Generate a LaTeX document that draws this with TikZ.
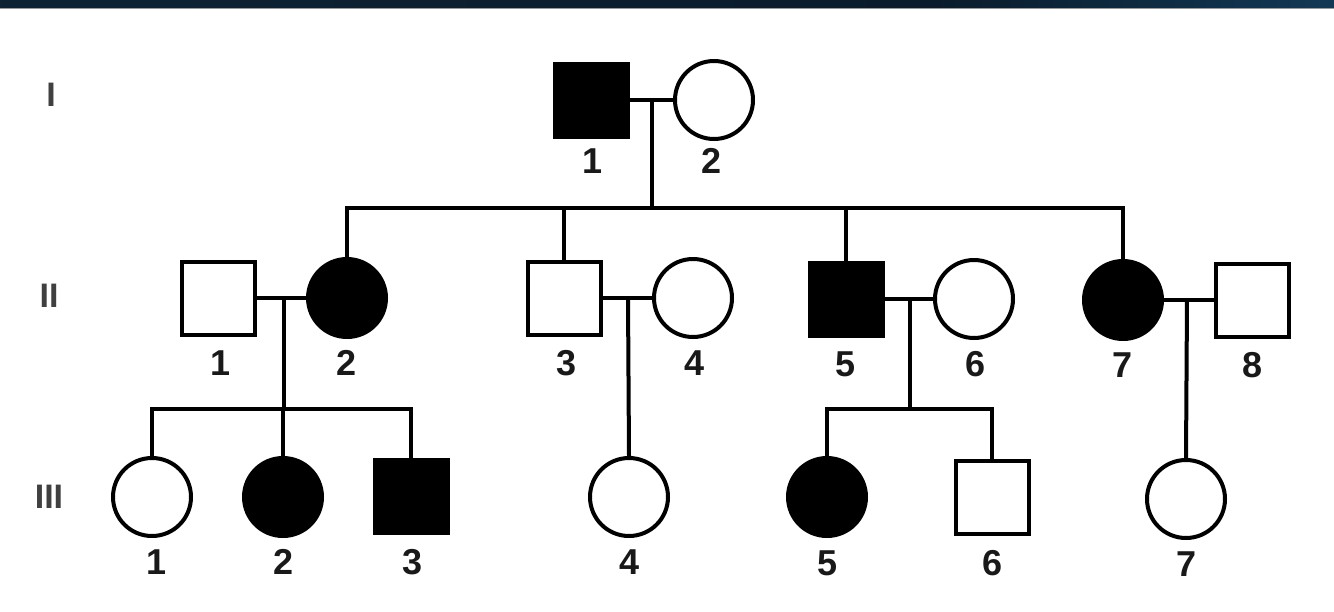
\documentclass[tikz,border=0pt]{standalone}
\usepackage{fontspec}
\setmainfont{Liberation Sans}
\usetikzlibrary{calc}
\definecolor{barA}{HTML}{10283A}
\definecolor{barB}{HTML}{0A1C2B}
\definecolor{barC}{HTML}{154669}
\definecolor{barD}{HTML}{0E3250}
\pgfdeclarehorizontalshading{topbar}{100bp}{color(0bp)=(barA); color(60bp)=(barB); color(82bp)=(barC); color(100bp)=(barD)}
\tikzset{
  male/.style={draw=black, line width=4pt, rectangle, minimum size=73pt, inner sep=0pt, fill=white},
  female/.style={draw=black, line width=4pt, circle, minimum size=78pt, inner sep=0pt, fill=white},
  aff/.style={fill=black},
  link/.style={draw=black, line width=4pt},
  num/.style={font=\fontsize{36}{36}\selectfont\bfseries, inner sep=0pt, text=black!90},
  gen/.style={font=\fontsize{34}{34}\selectfont\bfseries, inner sep=0pt, text=black!75}
}
\begin{document}
\begin{tikzpicture}[x=1pt,y=-1pt]
\useasboundingbox (0,0) rectangle (1334,611);
\fill[white] (0,0) rectangle (1334,611);
\shade[shading=topbar] (0,0) rectangle (1334,7.5);
\fill[black!40] (0,7.5) rectangle (1334,8.3);

% generation labels
\node[gen] (gI) at (51,95) {I};
\node[gen] (gII) at (49,296) {II};
\node[gen] (gIII) at (49,497) {III};

% generation I
\node[male,aff] (I1) at (591,100) {};
\node[female] (I2) at (714,100) {};
\node[num] (lI1) at (593,161) {1};
\node[num] (lI2) at (712,161) {2};

% generation II
\node[male] (II1) at (218,298) {};
\node[female,aff] (II2) at (347,298) {};
\node[male] (II3) at (564,298) {};
\node[female] (II4) at (693,298) {};
\node[male,aff] (II5) at (846,299) {};
\node[female] (II6) at (974,299) {};
\node[female,aff] (II7) at (1123,300) {};
\node[male] (II8) at (1252,300) {};
\node[num] (lII1) at (221,363) {1};
\node[num] (lII2) at (347,363) {2};
\node[num] (lII3) at (567,363) {3};
\node[num] (lII4) at (695,363) {4};
\node[num] (lII5) at (846,364) {5};
\node[num] (lII6) at (976,364) {6};
\node[num] (lII7) at (1123,365) {7};
\node[num] (lII8) at (1252,365) {8};

% generation III
\node[female] (III1) at (152,497) {};
\node[female,aff] (III2) at (283,497) {};
\node[male,aff] (III3) at (411,496) {};
\node[female] (III4) at (629,497) {};
\node[female,aff] (III5) at (827,497) {};
\node[male] (III6) at (992,497) {};
\node[female] (III7) at (1186,499) {};
\node[num] (lIII1) at (157,562) {1};
\node[num] (lIII2) at (284,562) {2};
\node[num] (lIII3) at (413,562) {3};
\node[num] (lIII4) at (630,562) {4};
\node[num] (lIII5) at (828,563) {5};
\node[num] (lIII6) at (993,563) {6};
\node[num] (lIII7) at (1186,564) {7};

% coordinates
\coordinate (mI) at (652,100);
\coordinate (sII) at (652,208);
\coordinate (m1) at (284,298);
\coordinate (s1) at (284,409);
\coordinate (m2) at (628,298);
\coordinate (m3) at (910,299);
\coordinate (s3) at (910,409);
\coordinate (m4) at (1187,300);

% connectors
\draw[link] (I1.east) -- (I2.west);
\draw[link] (mI) -- (sII);
\draw[link] (II2.north) |- (sII) -| (II7.north);
\draw[link] (II3.north) -- (II3.north |- sII);
\draw[link] (II5.north) -- (II5.north |- sII);

\draw[link] (II1.east) -- (II2.west);
\draw[link] (m1) -- (s1);
\draw[link] (III1.north) |- (s1) -| (III3.north);
\draw[link] (III2.north) -- (III2.north |- s1);

\draw[link] (II3.east) -- (II4.west);
\draw[link] (m2) -- (III4.north);

\draw[link] (II5.east) -- (II6.west);
\draw[link] (m3) -- (s3);
\draw[link] (III5.north) |- (s3) -| (III6.north);

\draw[link] (II7.east) -- (II8.west);
\draw[link] (m4) -- (III7.north);
\end{tikzpicture}
\end{document}
